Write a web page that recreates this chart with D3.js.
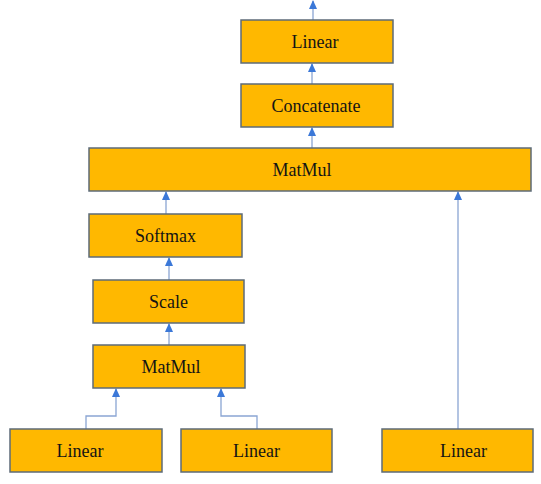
<!DOCTYPE html>
<html lang="en">
<head>
<meta charset="utf-8">
<title>Attention block diagram</title>
<script src="https://d3js.org/d3.v7.min.js"></script>
<style>
  body { margin: 0; background: #fff; }
  .node rect { fill: #ffb800; stroke: #5d6b78; stroke-width: 1.5; }
  .node text { font: 18px "Liberation Serif", "Times New Roman", serif; fill: #141414; }
  .edge { fill: none; stroke: #8aa5d3; stroke-width: 1.3; }
</style>
</head>
<body>
<script>
// nodes of the diagram, top to bottom
const nodeLabels = ["Linear", "Concatenate", "MatMul", "Softmax", "Scale", "MatMul", "Linear", "Linear", "Linear"];
const nodeLevels = [0, 1, 2, 3, 4, 5, 6, 6, 6];
// edges: [from, to]  (-1 = output above the figure)
const edges = [[0, -1], [1, 0], [2, 1], [3, 2], [4, 3], [5, 4], [6, 5], [7, 5], [8, 2]];

// layout (pixels): left/right of each box, and level tops
const boxLeft  = [241, 241, 89, 89, 93, 93, 10, 181, 382];
const boxRight = [393, 393, 531, 242, 244, 245, 162, 332, 533];
const levelTops = [20, 84, 148, 214, 280, 345, 429];
const boxH = 43;
// label nudge from box centre
const labelShift = [-2, -1, -8, 0, 0, 2, -6, 0, 6];
// where an edge enters its target, as offset from target centre (only for merging edges)
const port = { 6: -53, 7: 52 };
// small sideways nudge of a straight edge, keyed by source node
const nudge = { 0: -4, 1: -5, 2: -5 };

const w = 541, h = 484;

const yScale = d3.scaleOrdinal().domain(d3.range(levelTops.length)).range(levelTops);

const nodes = nodeLabels.map((label, i) => ({
  id: i,
  label: label,
  x0: boxLeft[i],
  x1: boxRight[i],
  y0: yScale(nodeLevels[i]),
  y1: yScale(nodeLevels[i]) + boxH
}));

const svg = d3.select("body").append("svg")
  .attr("width", w)
  .attr("height", h);

svg.append("defs").append("marker")
  .attr("id", "head")
  .attr("viewBox", "0 0 9 8")
  .attr("refX", 8).attr("refY", 4)
  .attr("markerUnits", "userSpaceOnUse")
  .attr("markerWidth", 9).attr("markerHeight", 8)
  .attr("orient", "auto")
  .append("path")
  .attr("d", "M0,0 L9,4 L0,8 Z")
  .attr("fill", "#3b78d8");

const cx = n => (n.x0 + n.x1) / 2;

function edgePath(e) {
  const s = nodes[e[0]];
  if (e[1] < 0) {
    const x = Math.round(cx(s) + (nudge[e[0]] || 0));
    return d3.line()([[x, s.y0], [x, 1]]);
  }
  const t = nodes[e[1]];
  if (port[e[0]] !== undefined) {
    const sx = Math.round(cx(s));
    const tx = Math.round(cx(t) + port[e[0]]);
    const midY = t.y1 + 28;
    return d3.line()([[sx, s.y0], [sx, midY], [tx, midY], [tx, t.y1 + 1]]);
  }
  // straight edge: centre of the narrower box
  const narrow = (s.x1 - s.x0) <= (t.x1 - t.x0) ? s : t;
  const x = Math.round(cx(narrow) + (nudge[e[0]] || 0));
  return d3.line()([[x, s.y0], [x, t.y1 + 1]]);
}

svg.selectAll(".edge")
  .data(edges)
  .enter()
  .append("path")
  .attr("class", "edge")
  .attr("d", edgePath)
  .attr("marker-end", "url(#head)");

const g = svg.selectAll(".node")
  .data(nodes)
  .enter()
  .append("g")
  .attr("class", "node");

g.append("rect")
  .attr("x", d => d.x0)
  .attr("y", d => d.y0)
  .attr("width", d => d.x1 - d.x0)
  .attr("height", d => d.y1 - d.y0);

g.append("text")
  .attr("x", d => cx(d) + labelShift[d.id])
  .attr("y", d => (d.y0 + d.y1) / 2)
  .attr("text-anchor", "middle")
  .attr("dy", "0.35em")
  .text(d => d.label);
</script>
</body>
</html>
